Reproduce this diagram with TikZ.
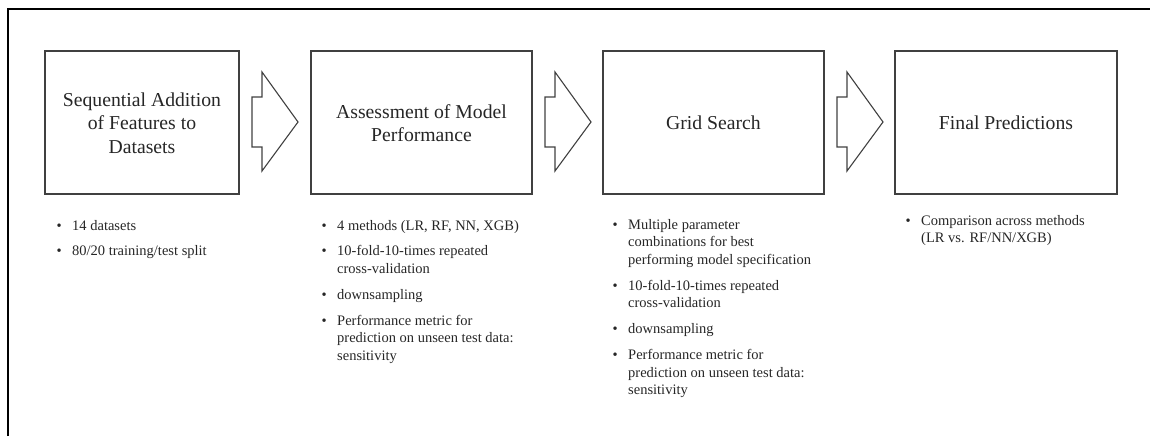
\documentclass[tikz,border=0pt]{standalone}
\usepackage{fontspec}
\setmainfont{Liberation Serif}
\definecolor{txt}{HTML}{262626}
\definecolor{edge}{HTML}{404040}
\tikzset{
  stagebox/.style={draw=edge, line width=1.1pt},
  stagetitle/.style={text=txt, align=center, font=\fontsize{19.7}{23.5}\selectfont, inner sep=0pt},
  blockarrow/.style={draw=edge, line width=1.1pt, line join=miter},
  listnode/.style={text=txt, anchor=base west, inner sep=0pt},
}
\newcommand{\bul}{\leavevmode\llap{\textbullet\hspace{10.5pt}}}
\newcommand{\blist}[2]{\parbox[t]{#1}{\raggedright\fontsize{14.5}{17.6}\selectfont #2}}
\newcommand{\gap}{\par\vspace{8.3pt}}
\begin{document}
\begin{tikzpicture}[x=1pt,y=-1pt]
\useasboundingbox (0,0) rectangle (1150,436);
% frame
\draw[line width=2pt] (8,436) -- (8,9) -- (1150,9);
% boxes
\draw[stagebox] (45,51) rectangle (239,194);
\draw[stagebox] (311,51) rectangle (532,194);
\draw[stagebox] (603,51) rectangle (824,194);
\draw[stagebox] (895,51) rectangle (1117,194);
\node[stagetitle] (t1) at (142,123) {Sequential Addition\\of Features to\\Datasets};
\node[stagetitle] (t2) at (421.5,123) {Assessment of Model\\Performance};
\node[stagetitle] (t3) at (713.5,123) {Grid Search};
\node[stagetitle] (t4) at (1006,123) {Final Predictions};
% block arrows
\foreach \r in {239,532,824}{
  \draw[blockarrow] (\r+13,97) -- (\r+23,97) -- (\r+23,72) -- (\r+59,122) -- (\r+23,171) -- (\r+23,147) -- (\r+13,147) -- cycle;
}
% lists
\node[listnode] (l1) at (72,230) {\blist{200pt}{\bul 14 datasets\gap
\bul 80/20 training/test split}};
\node[listnode] (l2) at (337,230) {\blist{220pt}{\bul 4 methods (LR, RF, NN, XGB)\gap
\bul 10-fold-10-times repeated\\cross-validation\gap
\bul downsampling\gap
\bul Performance metric for\\prediction on unseen test data:\\sensitivity}};
\node[listnode] (l3) at (628,229) {\blist{220pt}{\bul Multiple parameter\\combinations for best\\performing model specification\gap
\bul 10-fold-10-times repeated\\cross-validation\gap
\bul downsampling\gap
\bul Performance metric for\\prediction on unseen test data:\\sensitivity}};
\node[listnode] (l4) at (921,225) {\blist{200pt}{\bul Comparison across methods\\(LR vs. RF/NN/XGB)}};
\end{tikzpicture}
\end{document}
